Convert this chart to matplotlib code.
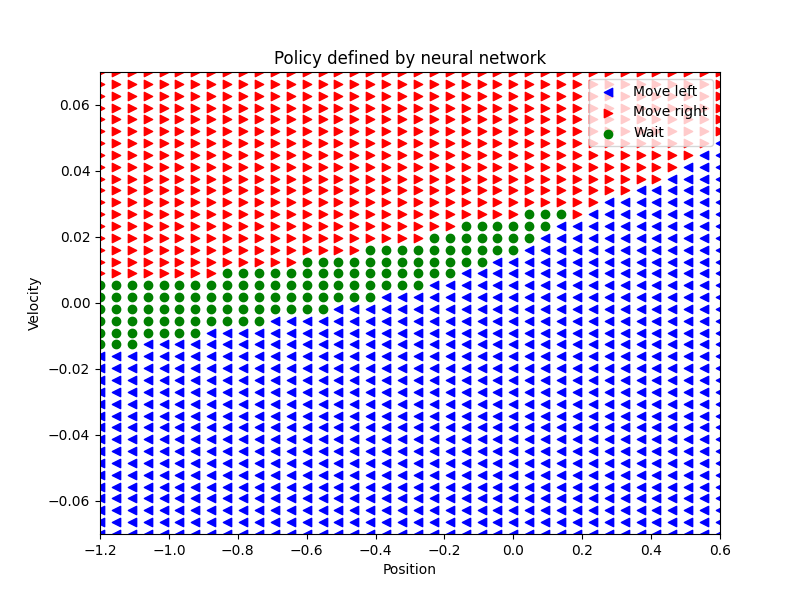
import numpy as np
import matplotlib
matplotlib.use('Agg')
import matplotlib.pyplot as plt

# grid of states (MountainCar)
positions = np.linspace(-1.2, 0.6, 40)
velocities = np.linspace(-0.07, 0.07, 40)

# for each position column: first velocity row that is not "left",
# and first velocity row that is "right" (rows below wait_start -> left)
wait_start = [16, 16, 16, 17, 17, 17, 17, 18, 18, 18,
              18, 19, 19, 19, 19, 20, 20, 20, 21, 21,
              21, 22, 22, 23, 23, 24, 24, 25, 26, 27,
              27, 28, 29, 29, 30, 30, 31, 32, 33, 34]
right_start = [22, 22, 22, 22, 22, 22, 22, 22, 23, 23,
               23, 23, 23, 24, 24, 24, 24, 25, 25, 25,
               25, 26, 26, 27, 27, 27, 27, 28, 28, 28,
               27, 28, 29, 29, 30, 30, 31, 32, 33, 34]

# 0 = move left, 1 = wait, 2 = move right
actions = np.zeros((len(positions), len(velocities)), dtype=int)
for i in range(len(positions)):
    actions[i, wait_start[i]:right_start[i]] = 1
    actions[i, right_start[i]:] = 2

P, V = np.meshgrid(positions, velocities, indexing='ij')

fig, ax = plt.subplots(figsize=(8, 6), dpi=100)

left = actions == 0
right = actions == 2
wait = actions == 1
ax.scatter(P[left], V[left], marker='<', color='blue', label='Move left')
ax.scatter(P[right], V[right], marker='>', color='red', label='Move right')
ax.scatter(P[wait], V[wait], marker='o', color='green', label='Wait')

ax.set_xlim(-1.2, 0.6)
ax.set_ylim(-0.07, 0.07)
ax.set_xlabel('Position')
ax.set_ylabel('Velocity')
ax.set_title('Policy defined by neural network')
ax.legend(loc='upper right')

fig.savefig('out.png', dpi=100)
